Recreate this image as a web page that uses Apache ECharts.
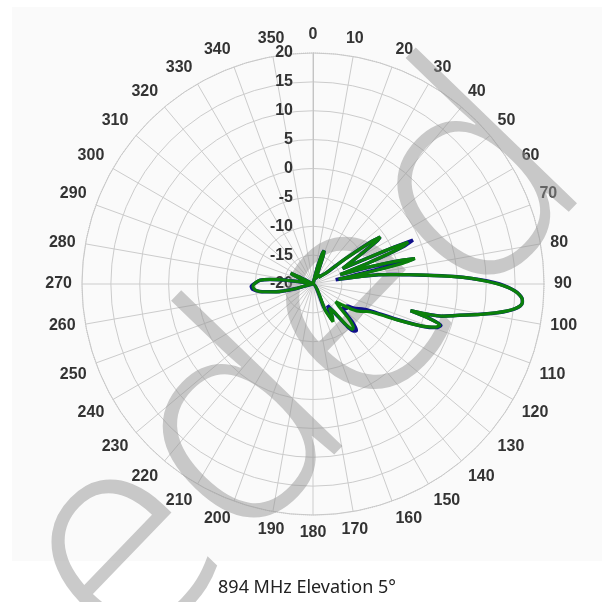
<!DOCTYPE html>
<html>
<head>
<meta charset="utf-8">
<script src="https://cdn.jsdelivr.net/npm/echarts@6/dist/echarts.min.js"></script>
<style>
    html, body { margin: 0; padding: 0; background: #fff; }
    #PatternChart { width: 611px; height: 602px; }
</style>
</head>
<body>
<div id="PatternChart"></div>
<script>
// azimuth angles (deg) shared by both traces
const angles = [0, 10, 13, 15, 17, 18.5, 20, 22, 25, 30, 35, 40, 45, 50, 52, 54, 55, 56, 58, 60,
    62.5, 64.5, 65.5, 66.3, 67.5, 69, 71, 73, 75, 76, 77, 78, 79.5, 81, 82, 83, 84, 85, 86, 87,
    88, 89, 90, 91, 92, 93, 94, 95, 96, 97, 98, 99, 100, 101, 102, 103, 104, 104.7, 105.3, 106.5,
    108, 109.5, 111, 113, 115, 117, 120, 123, 126, 128, 131, 134, 137, 139, 141, 143, 146, 149, 152, 155,
    158, 170, 200, 230, 252, 255, 258, 262, 265, 268, 271, 274, 276, 278, 281, 284, 290, 293, 295.5, 297,
    300, 320, 340, 360];

// gain in dB, green trace
const greenGain = [-20, -20, -20, -17, -14.5, -13.9, -15, -17.5, -19, -18.5, -18, -18.5, -18, -17, -13, -7.5, -5.8, -6.5, -10, -12.5,
    -14.2, -10, -5, -2, -3.5, -9, -15, -10, -4, -1.8, -4, -10, -15.5, -11.5, -8.5, -6.5, -4.5, -1.9, 1, 4.5,
    7.5, 9.8, 12, 13.8, 15, 15.8, 16.3, 16.4, 16.1, 15.2, 13.8, 12, 10, 8, 6, 4.5, 3, 1, -2.5, 1,
    3.1, 2.4, 0.5, -4, -8, -9.5, -10.5, -12, -14, -15, -14, -11.5, -9.8, -9.6, -11, -14, -15, -13.5, -12.6, -15,
    -20, -20, -20, -20, -20, -17, -13.5, -10.7, -9.8, -9.6, -10, -10.8, -12.5, -15, -19, -20, -20, -17.5, -15.7, -17.5,
    -20, -20, -20, -20];

// gain in dB, blue trace
const blueGain = [-20, -20, -20, -17, -14.5, -13.9, -15, -17.5, -19, -18.5, -18, -18.5, -18, -17, -13, -7.5, -5.8, -6.5, -10, -12.5,
    -14.2, -10, -5, -1.1, -3, -9, -15, -11, -4.5, -2, -6, -13, -16, -11.5, -8.5, -6.5, -4.5, -1.9, 1, 4.5,
    7.5, 10.2, 12.3, 13.8, 15, 15.8, 16.3, 16.4, 16.1, 15.2, 13.8, 12, 10, 8, 6, 4.5, 3, 1, -2.5, 1,
    3.3, 2.6, 0.5, -4.5, -9, -10.5, -11.5, -13, -12.8, -13.5, -13, -10.5, -9, -9.2, -10.5, -13.5, -15.5, -14, -13, -15.5,
    -20, -20, -20, -20, -20, -17, -13.5, -10.7, -9.5, -9.3, -10, -10.8, -12.5, -15, -19, -20, -20, -17.5, -15.7, -17.5,
    -20, -20, -20, -20];

function toPolar(gain) {
    let data = [];
    for (let i = 0; i < angles.length; i++) {
        data.push([gain[i], angles[i]]);
    }
    return data;
}

const labelFont = {
    color: '#333',
    fontSize: 16,
    fontWeight: 'bold',
    fontFamily: 'Liberation Sans'
};

const chart = echarts.init(document.getElementById('PatternChart'));
chart.setOption({
    animation: false,
    backgroundColor: '#fff',
    graphic: [
        {
            type: 'rect',
            silent: true,
            z: -1,
            shape: { x: 12, y: 7, width: 590, height: 554 },
            style: { fill: '#fafafa' }
        },
        {
            // grey watermark lettering across the plot
            type: 'text',
            silent: true,
            z: 1,
            x: 300,
            y: 369,
            rotation: 46 * Math.PI / 180,
            style: {
                text: 'eded',
                font: '350 295px "Open Sans"',
                fill: 'rgba(150,150,150,0.5)',
                align: 'center',
                verticalAlign: 'middle'
            }
        },
        {
            type: 'text',
            silent: true,
            x: 307,
            y: 588,
            style: {
                text: '894 MHz Elevation 5°',
                font: '18px "Noto Sans"',
                fill: '#222',
                align: 'center',
                verticalAlign: 'middle'
            }
        }
    ],
    polar: {
        center: [313, 284],
        radius: 231
    },
    angleAxis: {
        type: 'value',
        min: 0,
        max: 360,
        interval: 10,
        startAngle: 90,
        clockwise: true,
        axisLine: {
            lineStyle: { color: '#c4c4c4', type: 'dotted', width: 1 }
        },
        axisTick: { show: false },
        axisLabel: Object.assign({ margin: 10, formatter: v => (v === 360 ? '' : v) }, labelFont),
        splitLine: {
            show: true,
            lineStyle: { color: '#cccccc', width: 1 }
        }
    },
    radiusAxis: {
        type: 'value',
        min: -20,
        max: 20,
        interval: 5,
        axisLine: {
            lineStyle: { color: '#c4c4c4' }
        },
        axisTick: { show: false },
        axisLabel: Object.assign({ margin: 20 }, labelFont),
        splitLine: {
            show: true,
            lineStyle: { color: '#cccccc', width: 1 }
        }
    },
    series: [
        {
            name: 'blue',
            type: 'line',
            coordinateSystem: 'polar',
            data: toPolar(blueGain),
            showSymbol: false,
            smooth: 0.2,
            lineStyle: { color: '#10108a', width: 3.5 },
            z: 3
        },
        {
            name: 'green',
            type: 'line',
            coordinateSystem: 'polar',
            data: toPolar(greenGain),
            showSymbol: false,
            smooth: 0.2,
            lineStyle: { color: '#0a800a', width: 3.2 },
            z: 4
        }
    ]
});
</script>
</body>
</html>
